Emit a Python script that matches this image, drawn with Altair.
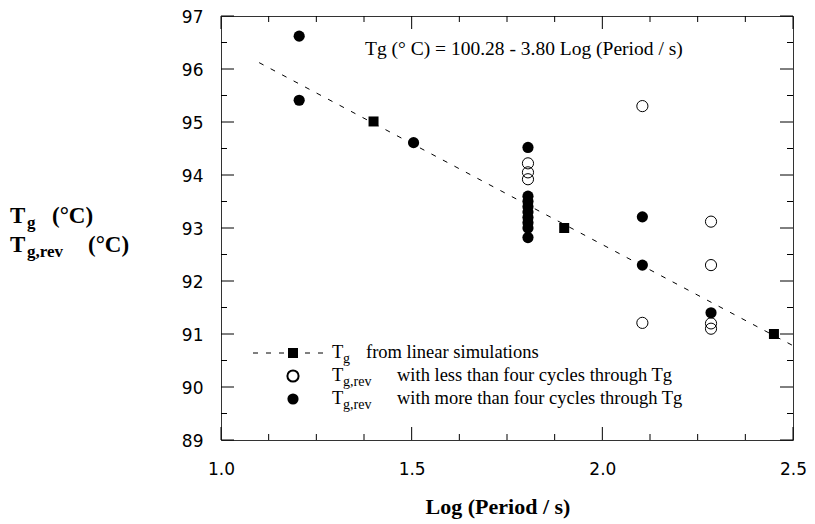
import altair as alt
import pandas as pd

W, H = 572, 424
SERIF = "Liberation Serif"
SANS = "DejaVu Sans"

# ---- data ----
fit_x = [1.10, 2.50]
fit_y = [96.12, 90.78]

sq_x = [1.40, 1.90, 2.45]
sq_y = [95.01, 93.00, 91.00]

filled_x = [1.205, 1.205, 1.505, 1.805, 1.805, 1.805, 1.805, 1.805, 1.805,
            1.805, 1.805, 1.805, 2.105, 2.105, 2.285]
filled_y = [96.62, 95.41, 94.61, 94.52, 93.60, 93.50, 93.40, 93.30, 93.20,
            93.10, 93.00, 92.82, 93.21, 92.30, 91.40]

open_x = [1.805, 1.805, 1.805, 2.105, 2.285, 2.285, 2.105, 2.285, 2.285]
open_y = [94.22, 94.05, 93.92, 95.30, 93.12, 92.30, 91.21, 91.20, 91.10]

x_major = [1.0, 1.5, 2.0, 2.5]
x_minor = [1.125, 1.25, 1.375, 1.625, 1.75, 1.875, 2.125, 2.25, 2.375]
y_major = [89, 90, 91, 92, 93, 94, 95, 96, 97]
y_minor = [89.5, 90.5, 91.5, 92.5, 93.5, 94.5, 95.5, 96.5]

xs = alt.Scale(domain=[1.0, 2.5], nice=False, zero=False)
ys = alt.Scale(domain=[89, 97], nice=False, zero=False)

x_axis = alt.Axis(values=x_major, format=".1f", ticks=False, tickSize=0, domain=False,
                  grid=False, labelPadding=21, labelFlush=False, title=None)
y_axis = alt.Axis(values=y_major, format="d", ticks=False, tickSize=0, domain=False,
                  grid=False, labelPadding=18, labelFlush=False, labelOffset=1, title=None)


def X():
    return alt.X("x:Q", scale=xs, axis=x_axis)


def Y():
    return alt.Y("y:Q", scale=ys, axis=y_axis)


fit_df = pd.DataFrame({"x": fit_x, "y": fit_y})
sq_df = pd.DataFrame({"x": sq_x, "y": sq_y})
filled_df = pd.DataFrame({"x": filled_x, "y": filled_y})
open_df = pd.DataFrame({"x": open_x, "y": open_y})

fit = alt.Chart(fit_df).mark_line(color="black", strokeWidth=1, strokeDash=[5, 8]).encode(
    x=X(), y=Y())
squares = alt.Chart(sq_df).mark_point(shape="square", filled=True, color="black",
                                      size=100, opacity=1).encode(x=X(), y=Y())
filled = alt.Chart(filled_df).mark_point(shape="circle", filled=True, color="black",
                                         size=125, opacity=1).encode(x=X(), y=Y())
opened = alt.Chart(open_df).mark_point(shape="circle", filled=False, color="black",
                                       size=125, strokeWidth=1, opacity=1).encode(x=X(), y=Y())


# ---- inward ticks on all four sides ----
def xticks(vals, length):
    d = pd.DataFrame({"x": vals})
    bottom = alt.Chart(d).mark_rule(color="black", strokeWidth=1).encode(
        x=X(), y=alt.value(H), y2=alt.value(H - length))
    top = alt.Chart(d).mark_rule(color="black", strokeWidth=1).encode(
        x=X(), y=alt.value(0), y2=alt.value(length))
    return [bottom, top]


def yticks(vals, length):
    d = pd.DataFrame({"y": vals})
    left = alt.Chart(d).mark_rule(color="black", strokeWidth=1).encode(
        y=Y(), x=alt.value(0), x2=alt.value(length))
    right = alt.Chart(d).mark_rule(color="black", strokeWidth=1).encode(
        y=Y(), x=alt.value(W), x2=alt.value(W - length))
    return [left, right]


ticks = xticks(x_major, 13) + xticks(x_minor, 6) + yticks(y_major, 13) + yticks(y_minor, 6)


# ---- text helpers ----
def label(text, px, py, size, bold=False, align="left", font=SERIF):
    return alt.Chart(pd.DataFrame({"t": [text]})).mark_text(
        align=align, baseline="alphabetic", font=font, fontSize=size,
        fontWeight="bold" if bold else "normal", color="black").encode(
        x=alt.value(px), y=alt.value(py), text="t:N")


texts = [
    label("Tg (° C) = 100.28 - 3.80 Log (Period / s)", 144, 39, 19.5),
    label("Log (Period / s)", 277, 498, 22, bold=True, align="center"),
    # y title
    label("T", -211, 207, 23, bold=True),
    label("g", -194, 212, 17, bold=True),
    label("(°C)", -169, 207, 23, bold=True),
    label("T", -211, 236, 23, bold=True),
    label("g,rev", -194, 241, 17, bold=True),
    label("(°C)", -133, 236, 23, bold=True),
    # legend text
    label("T", 111, 342, 18.5),
    label("g", 122, 347, 14),
    label("from linear simulations", 145, 342, 18.5),
    label("T", 111, 365, 18.5),
    label("g,rev", 122, 370, 14),
    label("with less than four cycles through Tg", 176, 365, 18.5),
    label("T", 111, 388, 18.5),
    label("g,rev", 122, 393, 14),
    label("with more than four cycles through Tg", 176, 388, 18.5),
]

one = pd.DataFrame({"k": [0]})
leg_line = alt.Chart(one).mark_rule(color="black", strokeWidth=1, strokeDash=[5, 8]).encode(
    x=alt.value(32), x2=alt.value(109), y=alt.value(337))
leg_sq = alt.Chart(one).mark_point(shape="square", filled=True, color="black", size=100,
                                   opacity=1).encode(x=alt.value(72), y=alt.value(337))
leg_open = alt.Chart(one).mark_point(shape="circle", filled=False, color="black", size=125,
                                     opacity=1).encode(x=alt.value(72), y=alt.value(360))
leg_fill = alt.Chart(one).mark_point(shape="circle", filled=True, color="black", size=125,
                                     opacity=1).encode(x=alt.value(72), y=alt.value(383))

chart = alt.layer(fit, *ticks, squares, opened, filled, leg_line, leg_sq, leg_open, leg_fill,
                  *texts).properties(
    width=W, height=H,
    autosize=alt.AutoSizeParams(type="none"),
    padding={"left": 213, "top": 8, "right": 14, "bottom": 82},
).configure_view(stroke="#333", strokeWidth=1).configure_axis(
    labelFont=SANS, labelFontSize=17, labelColor="black")

chart.save("out.html", embed_options={"renderer": "svg", "actions": False})
